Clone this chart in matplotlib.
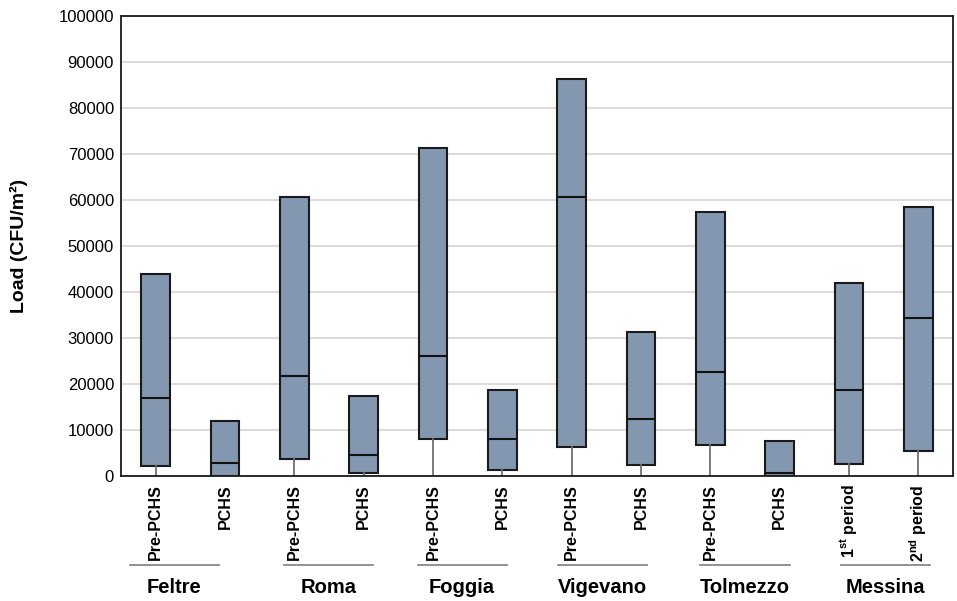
import matplotlib
matplotlib.use("Agg")
import matplotlib.pyplot as plt

plt.rcParams['font.family'] = ['Liberation Sans', 'DejaVu Sans']
plt.rcParams['mathtext.fontset'] = 'custom'
plt.rcParams['mathtext.rm'] = 'Liberation Sans:bold'
plt.rcParams['mathtext.bf'] = 'Liberation Sans:bold'
plt.rcParams['mathtext.it'] = 'Liberation Sans:bold'

# ---- data ----
groups = ["Feltre", "Roma", "Foggia", "Vigevano", "Tolmezzo", "Messina"]
tick_labels = ["Pre-PCHS", "PCHS", "Pre-PCHS", "PCHS", "Pre-PCHS", "PCHS",
               "Pre-PCHS", "PCHS", "Pre-PCHS", "PCHS",
               r"1$^{\mathbf{st}}$ period", r"2$^{\mathbf{nd}}$ period"]
q1 = [2200, 0, 3600, 700, 8000, 1200, 6300, 2500, 6700, 0, 2700, 5500]
median = [17000, 2900, 21700, 4500, 26100, 8100, 60700, 12500, 22600, 700, 18800, 34300]
q3 = [44000, 11900, 60700, 17500, 71200, 18800, 86200, 31400, 57400, 7600, 42000, 58500]
low = [0, 0, 0, 0, 0, 0, 0, 0, 0, 0, 0, 0]
y_ticks = [0, 10000, 20000, 30000, 40000, 50000, 60000, 70000, 80000, 90000, 100000]

# ---- layout ----
group_label_x = [0.27, 2.49, 4.42, 6.44, 8.5, 10.53]

fig = plt.figure(figsize=(9.57, 6.01), dpi=100)
ax = fig.add_axes([121 / 957, 1 - 476 / 601, (953 - 121) / 957, 460 / 601])

stats = []
for i in range(len(tick_labels)):
    stats.append(dict(med=median[i], q1=q1[i], q3=q3[i],
                      whislo=low[i], whishi=q3[i], fliers=[]))

positions = list(range(len(tick_labels)))
ax.bxp(stats, positions=positions, widths=0.41, patch_artist=True,
       showcaps=False, showfliers=False,
       boxprops=dict(facecolor="#8497B0", edgecolor="#1a1a1a", linewidth=1.5),
       medianprops=dict(color="#111111", linewidth=1.5),
       whiskerprops=dict(color="#707070", linewidth=1.3))

ax.set_xlim(-0.5, len(tick_labels) - 0.5)
ax.set_ylim(0, 100000)
ax.set_yticks(y_ticks)
ax.set_yticklabels([str(v) for v in y_ticks])
ax.yaxis.grid(True, color="#d9d9d9", linewidth=1.3)
ax.set_axisbelow(True)
ax.tick_params(axis='y', length=0, pad=5, labelsize=12)
ax.tick_params(axis='x', length=0, pad=6)
ax.set_xticks(positions)
ax.set_xticklabels(tick_labels, rotation=90, fontsize=11.5, fontweight='bold', va='top')

for sp in ax.spines.values():
    sp.set_color("#1a1a1a")
    sp.set_linewidth(1.3)

ax.set_ylabel("Load (CFU/m²)", fontsize=14, fontweight='bold')
ax.yaxis.set_label_coords(-0.112, 0.5)

tr = ax.get_xaxis_transform()
for gx, name in zip(group_label_x, groups):
    ax.plot([gx - 0.642, gx + 0.642], [-0.1935, -0.1935], transform=tr,
            color="#7f7f7f", linewidth=1.2, clip_on=False)
    ax.text(gx, -0.243, name, transform=tr, ha='center', va='center',
            fontsize=14.5, fontweight='bold')

fig.savefig("out.png", dpi=100)
